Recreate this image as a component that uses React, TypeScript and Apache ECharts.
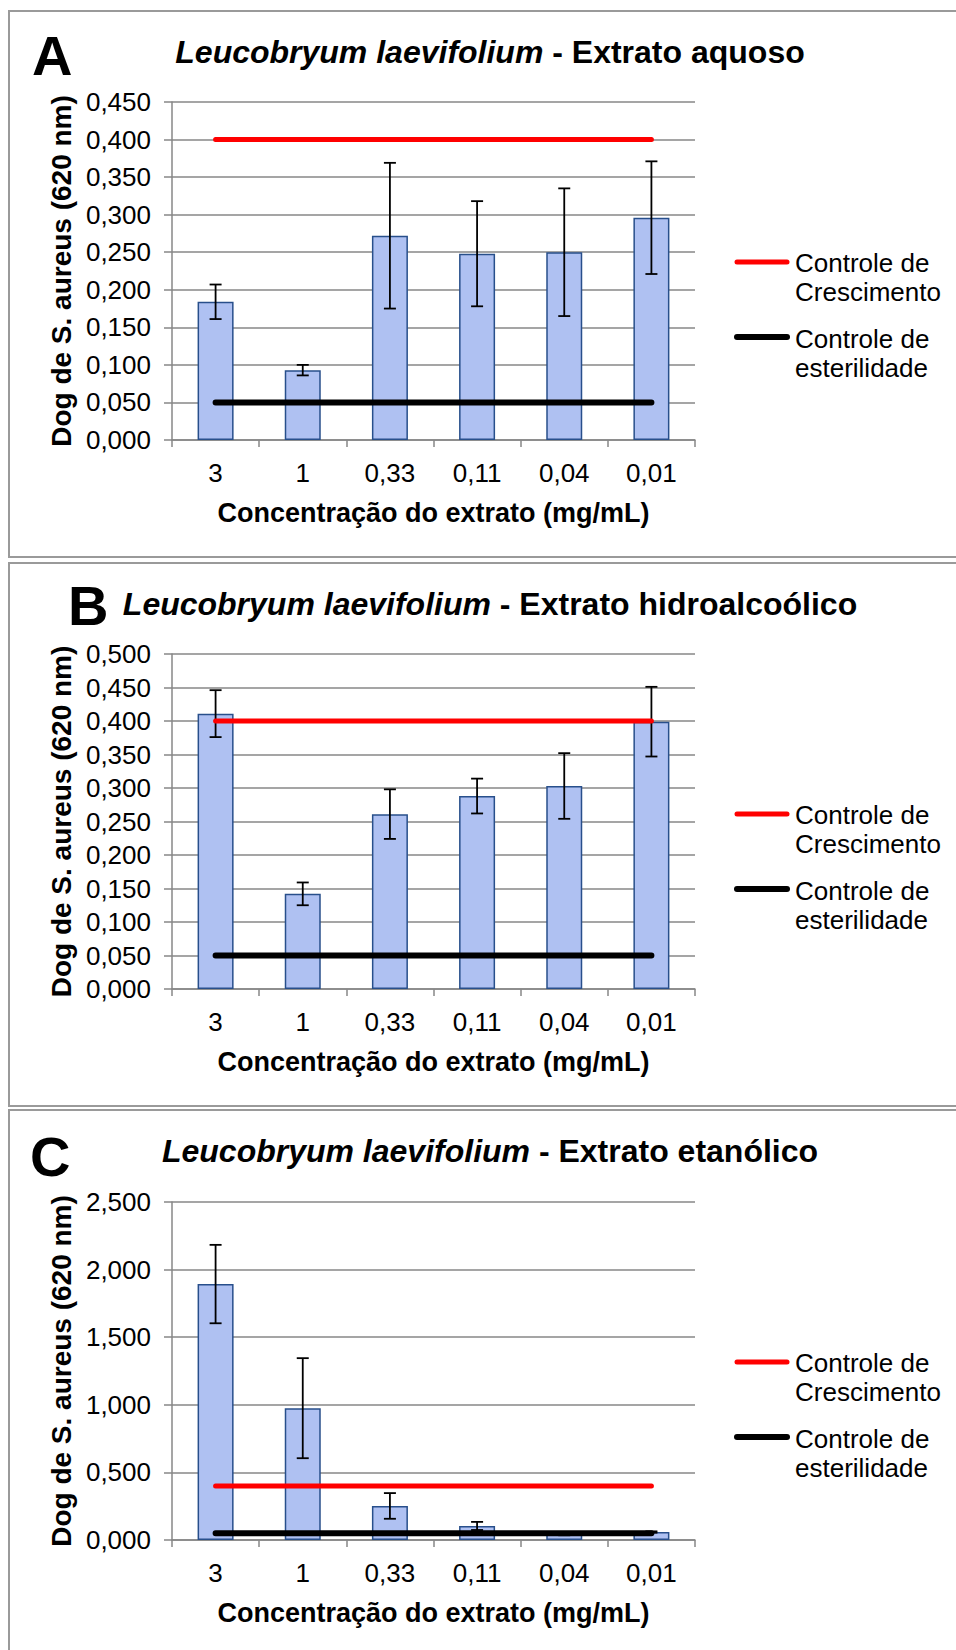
import React, { useEffect, useRef } from "react";
import * as echarts from "echarts";

const categories = ["3", "1", "0,33", "0,11", "0,04", "0,01"];

const meanA = [0.184, 0.093, 0.272, 0.248, 0.25, 0.296];
const errA = [0.023, 0.007, 0.097, 0.07, 0.085, 0.075];
const growthA = [0.4, 0.4, 0.4, 0.4, 0.4, 0.4];
const sterilA = [0.05, 0.05, 0.05, 0.05, 0.05, 0.05];
const ticksA = ["0,000", "0,050", "0,100", "0,150", "0,200", "0,250", "0,300", "0,350", "0,400", "0,450"];

const meanB = [0.411, 0.142, 0.261, 0.288, 0.303, 0.399];
const errB = [0.035, 0.017, 0.037, 0.026, 0.049, 0.052];
const growthB = [0.4, 0.4, 0.4, 0.4, 0.4, 0.4];
const sterilB = [0.05, 0.05, 0.05, 0.05, 0.05, 0.05];
const ticksB = ["0,000", "0,050", "0,100", "0,150", "0,200", "0,250", "0,300", "0,350", "0,400", "0,450", "0,500"];

const meanC = [1.893, 0.975, 0.252, 0.104, 0.04, 0.059];
const errC = [0.29, 0.37, 0.095, 0.03, 0.005, 0.005];
const growthC = [0.4, 0.4, 0.4, 0.4, 0.4, 0.4];
const sterilC = [0.05, 0.05, 0.05, 0.05, 0.05, 0.05];
const ticksC = ["0,000", "0,500", "1,000", "1,500", "2,000", "2,500"];

const speciesName = "Leucobryum laevifolium";
const extractNames = ["Extrato aquoso", "Extrato hidroalcoólico", "Extrato etanólico"];
const panelLetters = ["A", "B", "C"];
const yAxisName = "Dog de S. aureus (620 nm)";
const xAxisName = "Concentração do extrato (mg/mL)";
const legendGrowth = ["Controle de", "Crescimento"];
const legendSteril = ["Controle de", "esterilidade"];

const FONT = '"Liberation Sans", Arial, Helvetica, sans-serif';

const panelData = [
  { mean: meanA, err: errA, growth: growthA, steril: sterilA, ticks: ticksA, max: 0.45, interval: 0.05 },
  { mean: meanB, err: errB, growth: growthB, steril: sterilB, ticks: ticksB, max: 0.5, interval: 0.05 },
  { mean: meanC, err: errC, growth: growthC, steril: sterilC, ticks: ticksC, max: 2.5, interval: 0.5 },
];

// layout (pixels)
const layout = [
  { boxTop: 11, boxH: 546, gridTop: 102, gridH: 338, letterX: 32, letterY: 55, titleY: 53 },
  { boxTop: 563, boxH: 543, gridTop: 654, gridH: 335, letterX: 68, letterY: 605, titleY: 605 },
  { boxTop: 1110, boxH: 545, gridTop: 1202, gridH: 338, letterX: 30, letterY: 1156, titleY: 1152 },
];

const GRID_LEFT = 172;
const GRID_W = 523;
const GRAY = "#878787";

function buildOption() {
  const grid: any[] = [];
  const xAxis: any[] = [];
  const yAxis: any[] = [];
  const series: any[] = [];
  const title: any[] = [];
  const graphic: any[] = [];

  panelData.forEach((p, i) => {
    const L = layout[i];
    grid.push({ left: GRID_LEFT, top: L.gridTop, width: GRID_W, height: L.gridH, containLabel: false });
    xAxis.push({
      type: "category",
      gridIndex: i,
      data: categories,
      boundaryGap: true,
      name: xAxisName,
      nameLocation: "middle",
      nameGap: 59,
      nameTextStyle: { fontFamily: FONT, fontSize: 27, fontWeight: "bold", color: "#000" },
      axisLine: { show: true, lineStyle: { color: GRAY, width: 1.5 } },
      axisTick: { show: true, alignWithLabel: false, length: 7, lineStyle: { color: GRAY, width: 1.5 } },
      axisLabel: { fontFamily: FONT, fontSize: 26, color: "#000", margin: 20, interval: 0 },
      splitLine: { show: false },
    });
    yAxis.push({
      type: "value",
      gridIndex: i,
      min: 0,
      max: p.max,
      interval: p.interval,
      name: yAxisName,
      nameLocation: "middle",
      nameGap: 94,
      nameTextStyle: { fontFamily: FONT, fontSize: 28, fontWeight: "bold", color: "#000" },
      axisLine: { show: true, lineStyle: { color: GRAY, width: 1.5 } },
      axisTick: { show: true, length: 8, lineStyle: { color: GRAY, width: 1.5 } },
      axisLabel: {
        fontFamily: FONT,
        fontSize: 26,
        color: "#000",
        margin: 21,
        formatter: (v: number) => p.ticks[Math.round(v / p.interval)] ?? "",
      },
      splitLine: { show: true, lineStyle: { color: GRAY, width: 1.5 } },
    });

    series.push({
      type: "bar",
      name: "Média " + panelLetters[i],
      xAxisIndex: i,
      yAxisIndex: i,
      data: p.mean,
      barWidth: 36,
      itemStyle: { color: "#AFC1F2", borderColor: "#284F8B", borderWidth: 1.5 },
      z: 2,
    });
    series.push({
      type: "custom",
      name: "Erro " + panelLetters[i],
      xAxisIndex: i,
      yAxisIndex: i,
      data: p.mean.map((m, k) => [k, m - p.err[k], m + p.err[k]]),
      encode: { x: 0, y: [1, 2] },
      z: 3,
      renderItem: (params: any, api: any) => {
        const x = api.value(0);
        const lo = api.coord([x, api.value(1)]);
        const hi = api.coord([x, api.value(2)]);
        const hw = 6;
        const st = { stroke: "#000", lineWidth: 1.8 };
        return {
          type: "group",
          children: [
            { type: "line", shape: { x1: lo[0], y1: lo[1], x2: hi[0], y2: hi[1] }, style: st },
            { type: "line", shape: { x1: hi[0] - hw, y1: hi[1], x2: hi[0] + hw, y2: hi[1] }, style: st },
            { type: "line", shape: { x1: lo[0] - hw, y1: lo[1], x2: lo[0] + hw, y2: lo[1] }, style: st },
          ],
        };
      },
    });
    series.push({
      type: "line",
      name: "Controle de Crescimento",
      xAxisIndex: i,
      yAxisIndex: i,
      data: p.growth,
      symbol: "none",
      lineStyle: { color: "#FF0000", width: 5, cap: "round" },
      itemStyle: { color: "#FF0000" },
      z: 5,
    });
    series.push({
      type: "line",
      name: "Controle de esterilidade",
      xAxisIndex: i,
      yAxisIndex: i,
      data: p.steril,
      symbol: "none",
      lineStyle: { color: "#000000", width: 6, cap: "round" },
      itemStyle: { color: "#000" },
      z: 5,
    });

    title.push({
      text: "{i|" + speciesName + "}{b| - " + extractNames[i] + "}",
      left: 490,
      textAlign: "center",
      top: L.titleY - 17,
      padding: 0,
      textStyle: {
        rich: {
          i: { fontFamily: FONT, fontSize: 32, fontWeight: "bold", fontStyle: "italic", color: "#000" },
          b: { fontFamily: FONT, fontSize: 32, fontWeight: "bold", color: "#000" },
        },
      },
    });

    graphic.push({
      type: "rect",
      shape: { x: 9, y: L.boxTop, width: 960, height: L.boxH },
      style: { fill: "none", stroke: "#9A9A9A", lineWidth: 2 },
      z: -10,
      silent: true,
    });
    graphic.push({
      type: "text",
      x: L.letterX,
      y: L.letterY,
      style: {
        text: panelLetters[i],
        font: "bold 56px " + FONT,
        fill: "#000",
        verticalAlign: "middle",
        align: "left",
      },
    });
    const gt = L.gridTop;
    const legendItems = [
      { color: "#FF0000", w: 5, y: gt + 160, lines: legendGrowth, ty: gt + 161 },
      { color: "#000000", w: 6, y: gt + 235, lines: legendSteril, ty: gt + 237 },
    ];
    legendItems.forEach((it) => {
      graphic.push({
        type: "line",
        shape: { x1: 737, y1: it.y, x2: 787, y2: it.y },
        style: { stroke: it.color, lineWidth: it.w, lineCap: "round" },
      });
      it.lines.forEach((t, k) => {
        graphic.push({
          type: "text",
          x: 795,
          y: it.ty + k * 29,
          style: { text: t, font: "26px " + FONT, fill: "#000", verticalAlign: "middle", align: "left" },
        });
      });
    });
  });

  return {
    animation: false,
    backgroundColor: "#fff",
    title,
    grid,
    xAxis,
    yAxis,
    series,
    graphic,
  };
}

export default function App() {
  const ref = useRef<HTMLDivElement>(null);
  useEffect(() => {
    if (!ref.current) return;
    const chart = echarts.init(ref.current, undefined, { renderer: "svg" });
    chart.setOption(buildOption() as any);
    return () => chart.dispose();
  }, []);
  return (
    <div
      ref={ref}
      style={{ position: "absolute", left: 0, top: 0, width: 956, height: 1650, background: "#fff" }}
    />
  );
}
